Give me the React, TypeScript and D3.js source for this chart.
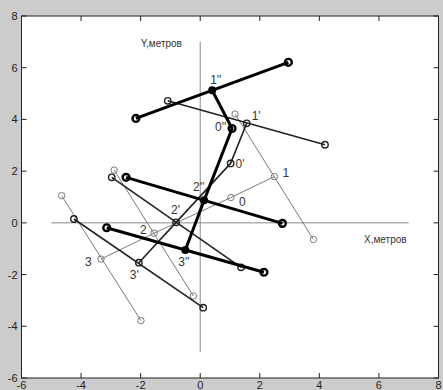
import React from "react"
import * as d3 from "d3"

const W = 443,
  H = 390

// axis ticks
const xTicks = [-6, -4, -2, 0, 2, 4, 6, 8]
const yTicks = [-6, -4, -2, 0, 2, 4, 6, 8]

// body points in order 1 - 0 - 2 - 3
const pointNames = ["1", "0", "2", "3"]

// position 0 (no prime)
const bodyX0 = [2.49, 1.03, -1.55, -3.33]
const bodyY0 = [1.79, 0.98, -0.4, -1.4]
// position ' (one prime)
const bodyX1 = [1.56, 1.02, -0.81, -2.06]
const bodyY1 = [3.85, 2.3, 0.02, -1.54]
// position '' (two primes)
const bodyX2 = [0.4, 1.07, 0.13, -0.5]
const bodyY2 = [5.13, 3.65, 0.87, -1.05]

// bars through points 1, 2, 3 : [x, y] start and end
const barStart0 = [[1.17, 4.21], [-2.89, 2.04], [-4.65, 1.05]]
const barEnd0 = [[3.8, -0.64], [-0.23, -2.83], [-1.99, -3.78]]
const barStart1 = [[-1.09, 4.72], [-2.97, 1.76], [-4.24, 0.15]]
const barEnd1 = [[4.19, 3.02], [1.37, -1.72], [0.1, -3.28]]
const barStart2 = [[-2.16, 4.04], [-2.49, 1.76], [-3.14, -0.19]]
const barEnd2 = [[2.96, 6.21], [2.76, -0.02], [2.14, -1.91]]

// label offsets in px (dx, dy to baseline), per point 1,0,2,3
const labelOff0 = [[8, 0], [8, 8], [-14, 1], [-16, 7]]
const labelOff1 = [[5, -3], [5, 5], [-5, -8], [-9, 16]]
const labelOff2 = [[-2, -6], [-17, 3], [-11, -9], [-7, 16]]

export default function App() {
  const x = d3.scaleLinear().domain([-6, 8]).range([21.5, 438.5])
  const y = d3.scaleLinear().domain([-6, 8]).range([378, 16])
  const line = d3
    .line<number[]>()
    .x((d) => x(d[0]))
    .y((d) => y(d[1]))

  const sets = [
    { bx: bodyX0, by: bodyY0, bs: barStart0, be: barEnd0, off: labelOff0, suffix: "", color: "#7a7a7a", lw: 1, mw: 1, r: 3.2 },
    { bx: bodyX1, by: bodyY1, bs: barStart1, be: barEnd1, off: labelOff1, suffix: "'", color: "#222", lw: 1.6, mw: 1.4, r: 3.2 },
    { bx: bodyX2, by: bodyY2, bs: barStart2, be: barEnd2, off: labelOff2, suffix: "''", color: "#000", lw: 3, mw: 2.4, r: 3.4 },
  ]

  const [x0, x1] = x.range()
  const [yb, yt] = y.range()

  return (
    <svg width={W} height={H} style={{ position: "absolute", left: 0, top: 0 }} fontFamily="Liberation Sans, Arial, sans-serif">
      <rect width={W} height={H} fill="#cccccc" />
      <rect x={x0} y={yt} width={x1 - x0} height={yb - yt} fill="#fff" />

      {/* coordinate axes inside the plot */}
      <line x1={x(-5)} x2={x(7)} y1={y(0)} y2={y(0)} stroke="#8a8a8a" strokeWidth={1} />
      <line x1={x(0)} x2={x(0)} y1={y(7)} y2={y(-5)} stroke="#8a8a8a" strokeWidth={1} />
      <text x={x(-2.0)} y={y(6.8)} fontSize={10} fill="#333">Y,метров</text>
      <text x={x(5.5)} y={y(-0.78)} fontSize={10} fill="#333">X,метров</text>

      {sets.map((s, k) => {
        const body = s.bx.map((v, i) => [v, s.by[i]])
        return (
          <g key={k}>
            {s.bs.map((st, i) => (
              <path key={"b" + i} d={line([st, s.be[i]]) || ""} stroke={s.color} strokeWidth={s.lw} fill="none" />
            ))}
            <path d={line(body) || ""} stroke={s.color} strokeWidth={s.lw} fill="none" strokeLinejoin="round" />
            {s.bs.map((st, i) =>
              [st, s.be[i]].map((p, j) => (
                <circle key={"c" + i + j} cx={x(p[0])} cy={y(p[1])} r={s.r} fill="none" stroke={s.color} strokeWidth={s.mw} />
              ))
            )}
            {body.map((p, i) =>
              k === 2 && i !== 1 ? (
                <circle key={"p" + i} cx={x(p[0])} cy={y(p[1])} r={4} fill="#000" />
              ) : (
                <circle key={"p" + i} cx={x(p[0])} cy={y(p[1])} r={s.r} fill="none" stroke={s.color} strokeWidth={s.mw} />
              )
            )}
            {body.map((p, i) => (
              <text key={"t" + i} x={x(p[0]) + s.off[i][0]} y={y(p[1]) + s.off[i][1]} fontSize={12} fill="#333">
                {pointNames[i] + s.suffix}
              </text>
            ))}
          </g>
        )
      })}

      {/* frame with inward ticks on all sides */}
      <rect x={x0} y={yt} width={x1 - x0} height={yb - yt} fill="none" stroke="#222" strokeWidth={1} />
      {xTicks.map((t) => (
        <g key={"xt" + t}>
          <line x1={x(t)} x2={x(t)} y1={yb} y2={yb - 5} stroke="#222" />
          <line x1={x(t)} x2={x(t)} y1={yt} y2={yt + 5} stroke="#222" />
          <text x={x(t)} y={yb + 11} fontSize={11} textAnchor="middle" fill="#222">{t}</text>
        </g>
      ))}
      {yTicks.map((t) => (
        <g key={"yt" + t}>
          <line x1={x0} x2={x0 + 5} y1={y(t)} y2={y(t)} stroke="#222" />
          <line x1={x1} x2={x1 - 5} y1={y(t)} y2={y(t)} stroke="#222" />
          <text x={x0 - 4} y={y(t) + 4} fontSize={11} textAnchor="end" fill="#222">{t}</text>
        </g>
      ))}
    </svg>
  )
}
